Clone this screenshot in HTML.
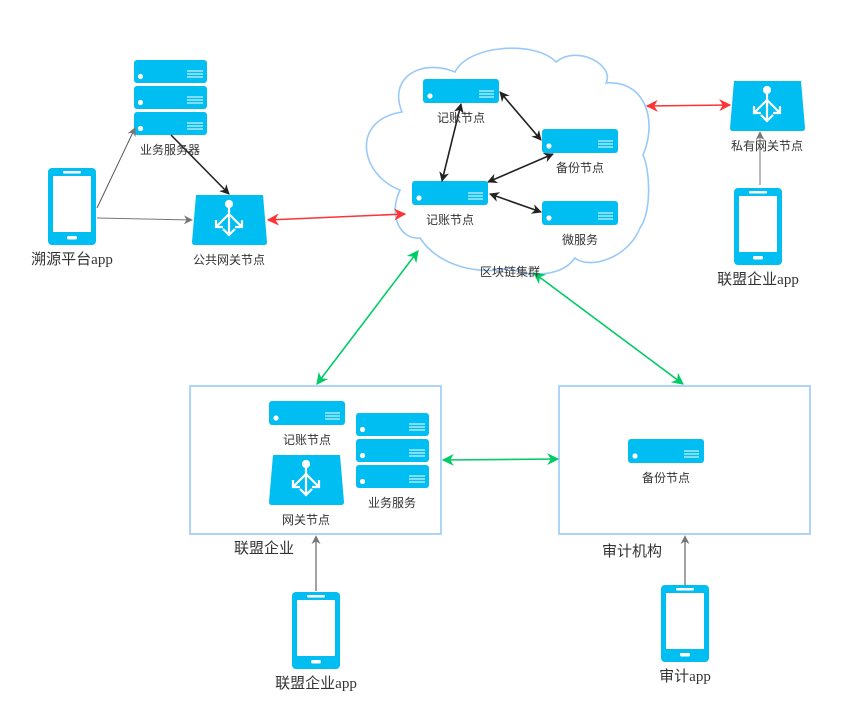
<!DOCTYPE html>
<html><head><meta charset="utf-8"><style>
body{margin:0;background:#fff}
svg{display:block}
.s{font-family:"Liberation Sans","Noto Sans CJK SC",sans-serif;font-size:12px;fill:#333;text-anchor:middle}
.b{font-family:"Liberation Serif","Noto Sans CJK SC",serif;font-size:15px;fill:#333;text-anchor:middle}
.c{font-family:"Liberation Sans","Noto Sans CJK SC",sans-serif;font-size:15px;fill:#333;text-anchor:middle}
</style></head><body>
<svg width="842" height="714" viewBox="0 0 842 714" xmlns="http://www.w3.org/2000/svg">
<defs>
<g id="srv"><rect x="0" y="0" width="76" height="24" rx="3" fill="#00BEF2"/><circle cx="7" cy="17" r="2.6" fill="#fff"/><path d="M56 12h15M56 15h15M56 18h15" stroke="#fff" stroke-width="1.1"/></g>
<g id="srv3"><rect x="0" y="0" width="73" height="23" rx="3" fill="#00BEF2"/><circle cx="6.5" cy="16.5" r="2.6" fill="#fff"/><path d="M53 11h16M53 14h16M53 17h16" stroke="#fff" stroke-width="1.1"/></g>
<g id="gw"><path d="M4 0H71L75 47Q75 50 72 50H3Q0 50 0 47Z" fill="#00BEF2"/><g stroke="#fff" stroke-width="2.2" fill="none"><circle cx="37" cy="9" r="3" fill="#fff"/><path d="M37 12V40M37 19L24 32M37 19L50 32M31 34L37 40L43 34M24 25V32H31M50 25V32H43"/></g></g>
<g id="ph"><rect x="0" y="0" width="48" height="77" rx="4" fill="#00BEF2"/><rect x="5" y="8" width="38" height="56" fill="#fff"/><rect x="15" y="3" width="18" height="2.5" rx="1" fill="#fff"/><rect x="19" y="68" width="10" height="3.5" rx="1.5" fill="#fff"/></g>
<marker id="ak" viewBox="0 0 10 10" refX="9" refY="5" markerWidth="10" markerHeight="10" orient="auto-start-reverse" markerUnits="userSpaceOnUse"><path d="M0 0L10 5L0 10L3 5Z" fill="#222"/></marker>
<marker id="ag" viewBox="0 0 10 10" refX="9" refY="5" markerWidth="9" markerHeight="9" orient="auto-start-reverse" markerUnits="userSpaceOnUse"><path d="M0 0L10 5L0 10L3 5Z" fill="#777"/></marker>
<marker id="ar" viewBox="0 0 10 10" refX="9" refY="5" markerWidth="12" markerHeight="12" orient="auto-start-reverse" markerUnits="userSpaceOnUse"><path d="M0 0L10 5L0 10L3 5Z" fill="#f33"/></marker>
<marker id="an" viewBox="0 0 10 10" refX="9" refY="5" markerWidth="12" markerHeight="12" orient="auto-start-reverse" markerUnits="userSpaceOnUse"><path d="M0 0L10 5L0 10L3 5Z" fill="#0c6"/></marker>
</defs>
<path d="M402,112 C388,78 420,58 455,72 C468,45 535,40 556,62 C578,44 615,66 606,83 C645,80 658,120 643,155 C650,170 652,210 640,228 C628,258 590,270 575,258 C560,280 520,275 510,268 C482,275 440,268 420,238 C400,240 388,215 400,190 C360,175 350,120 402,112 Z" fill="#fff" stroke="#99C9F8" stroke-width="1.6"/>
<rect x="190" y="386" width="251" height="148" fill="#fff" stroke="#99C9F8" stroke-width="1.6"/>
<rect x="559" y="386" width="251" height="148" fill="#fff" stroke="#99C9F8" stroke-width="1.6"/>
<use href="#srv3" x="134" y="60"/><use href="#srv3" x="134" y="86"/><use href="#srv3" x="134" y="112"/>
<use href="#gw" x="192" y="195"/>
<use href="#ph" x="48" y="168"/>
<use href="#srv" x="423" y="79"/><use href="#srv" x="542" y="129"/><use href="#srv" x="412" y="181"/><use href="#srv" x="542" y="201"/>
<use href="#gw" x="730" y="81"/>
<use href="#ph" x="734" y="188"/>
<use href="#srv" x="269" y="401"/>
<use href="#srv3" x="356" y="413"/><use href="#srv3" x="356" y="439"/><use href="#srv3" x="356" y="465"/>
<use href="#gw" x="269" y="455"/>
<use href="#srv" x="628" y="439"/>
<use href="#ph" x="292" y="592"/>
<use href="#ph" x="661" y="585"/>
<g fill="none" stroke-width="1">
<path d="M97,208L135,128" stroke="#555" marker-end="url(#ag)"/>
<path d="M97,218L192,220" stroke="#777" marker-end="url(#ag)"/>
<path d="M760,185L760,132" stroke="#777" marker-end="url(#ag)"/>
<path d="M316,591L316,536" stroke="#444" marker-end="url(#ag)"/>
<path d="M685,585L685,536" stroke="#444" marker-end="url(#ag)"/>
</g>
<g fill="none" stroke-width="1.6">
<path d="M171,135L229,194" stroke="#222" marker-end="url(#ak)"/>
<path d="M500,92L541,140" stroke="#222" marker-end="url(#ak)" marker-start="url(#ak)"/>
<path d="M461,104L442,181" stroke="#222" marker-end="url(#ak)" marker-start="url(#ak)"/>
<path d="M488,182L553,154" stroke="#222" marker-end="url(#ak)" marker-start="url(#ak)"/>
<path d="M490,194L541,212" stroke="#222" marker-end="url(#ak)" marker-start="url(#ak)"/>
<path d="M268,220L405,214" stroke="#f33" marker-end="url(#ar)" marker-start="url(#ar)"/>
<path d="M647,106L730,105" stroke="#f33" marker-end="url(#ar)" marker-start="url(#ar)"/>
<path d="M418,251L317,384" stroke="#0c6" marker-end="url(#an)" marker-start="url(#an)"/>
<path d="M534,273L683,384" stroke="#0c6" marker-end="url(#an)" marker-start="url(#an)"/>
<path d="M443,460L558,459" stroke="#0c6" marker-end="url(#an)" marker-start="url(#an)"/>
</g>
<text class="s" x="170" y="154">业务服务器</text>
<text class="s" x="229" y="264">公共网关节点</text>
<text class="b" x="72" y="264">溯源平台app</text>
<text class="s" x="461" y="122">记账节点</text>
<text class="s" x="580" y="172">备份节点</text>
<text class="s" x="450" y="224">记账节点</text>
<text class="s" x="580" y="244">微服务</text>
<text class="s" x="510" y="276">区块链集群</text>
<text class="s" x="767" y="150">私有网关节点</text>
<text class="b" x="758" y="284">联盟企业app</text>
<text class="s" x="307" y="444">记账节点</text>
<text class="s" x="392" y="507">业务服务</text>
<text class="s" x="306" y="524">网关节点</text>
<text class="c" x="264" y="553">联盟企业</text>
<text class="s" x="666" y="482">备份节点</text>
<text class="c" x="632" y="556">审计机构</text>
<text class="b" x="316" y="688">联盟企业app</text>
<text class="b" x="685" y="681">审计app</text>
</svg>
</body></html>
